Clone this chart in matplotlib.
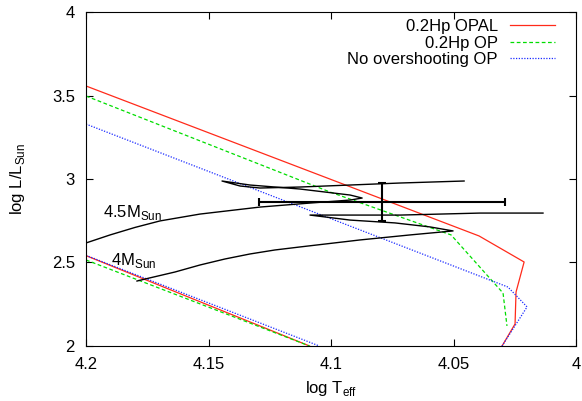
import numpy as np
import matplotlib
matplotlib.use("Agg")
import matplotlib.pyplot as plt

plt.rcParams['font.family'] = ['Liberation Sans', 'DejaVu Sans']
plt.rcParams['mathtext.fontset'] = 'custom'
plt.rcParams['mathtext.rm'] = 'Liberation Sans'

# boundary lines (upper and lower parts), log Teff / log L
opal_T = [4.2, 4.0396, 4.0212, 4.0245, 4.0249, 4.0302]
opal_L = [3.557, 2.659, 2.503, 2.323, 2.132, 2.0]
op_T = [4.2, 4.1004, 4.051, 4.0298, 4.0282]
op_L = [3.497, 2.922, 2.665, 2.317, 2.12]
noov_T = [4.2, 4.0278, 4.02, 4.0302]
noov_L = [3.329, 2.353, 2.234, 2.0]

opal_low_T = [4.2, 4.1088]
opal_low_L = [2.541, 2.0]
op_low_T = [4.2, 4.1088]
op_low_L = [2.515, 2.0]
noov_low_T = [4.2, 4.1048]
noov_low_L = [2.543, 2.0]

# evolutionary tracks
trk45_T = [4.2, 4.1902, 4.18, 4.1698, 4.1535, 4.129, 4.1086, 4.0922, 4.0873,
           4.0922, 4.1127, 4.1331, 4.1445,
           4.1371, 4.129, 4.1127, 4.0922, 4.0718, 4.0457]
trk45_L = [2.617, 2.665, 2.710, 2.749, 2.790, 2.832, 2.856, 2.874, 2.886,
           2.904, 2.940, 2.964, 2.988,
           2.958, 2.946, 2.952, 2.964, 2.976, 2.988]
trk4_T = [4.1792, 4.1759, 4.1637, 4.1535, 4.1433, 4.1331, 4.1229, 4.1127, 4.0882,
          4.0678, 4.0502, 4.0596, 4.0739, 4.0922, 4.1086, 4.0718, 4.0392, 4.0135]
trk4_L = [2.389, 2.401, 2.443, 2.485, 2.521, 2.551, 2.575, 2.593, 2.635,
          2.665, 2.689, 2.713, 2.737, 2.754, 2.784, 2.784, 2.796, 2.796]

# observed star
star_T, star_L = 4.0792, 2.862
star_Terr, star_Lerr = 0.0502, 0.114

fig = plt.figure(figsize=(5.82, 4.01), dpi=100)
ax = fig.add_axes([0.1478, 0.1372, 0.842, 0.8328])

red, green, blue = '#ff2a1a', '#00dd00', '#1a2aff'
ax.plot(opal_T, opal_L, color=red, lw=0.9, label='0.2Hp OPAL')
ax.plot(op_T, op_L, color=green, lw=0.9, ls=(0, (3, 2)), label='0.2Hp OP')
ax.plot(noov_T, noov_L, color=blue, lw=0.9, ls=(0, (1, 1.2)), label='No overshooting OP')
ax.plot(opal_low_T, opal_low_L, color=red, lw=0.9)
ax.plot(op_low_T, op_low_L, color=green, lw=0.9, ls=(0, (3, 2)))
ax.plot(noov_low_T, noov_low_L, color=blue, lw=0.9, ls=(0, (1, 1.2)))

ax.plot(trk45_T, trk45_L, color='black', lw=1)
ax.plot(trk4_T, trk4_L, color='black', lw=1)
ax.errorbar([star_T], [star_L], xerr=star_Terr, yerr=star_Lerr, color='black',
            lw=1.5, capsize=3, capthick=1.5)

ax.text(4.193, 2.772, r'4.5M$_{\rm Sun}$', fontsize=12)
ax.text(4.1898, 2.485, r'4M$_{\rm Sun}$', fontsize=12)

ax.set_xlim(4.2, 4.0)
ax.set_ylim(2, 4)
xt = [4.2, 4.15, 4.1, 4.05, 4.0]
yt = [2, 2.5, 3, 3.5, 4]
ax.set_xticks(xt)
ax.set_xticklabels(['%g' % v for v in xt])
ax.set_yticks(yt)
ax.set_yticklabels(['%g' % v for v in yt])
ax.tick_params(direction='in', length=5, top=True, right=True, labelsize=12, pad=8)
ax.set_xlabel(r'log T$_{\rm eff}$', fontsize=12, labelpad=5)
ax.set_ylabel(r'log L/L$_{\rm Sun}$', fontsize=12, labelpad=18)

ax.legend(loc='upper right', bbox_to_anchor=(0.963, 0.9895), frameon=False,
          markerfirst=False, fontsize=12, handlelength=2.7, handletextpad=0.7,
          labelspacing=0.1, borderaxespad=0.0, borderpad=0.2)

fig.savefig('out.png', dpi=100)
